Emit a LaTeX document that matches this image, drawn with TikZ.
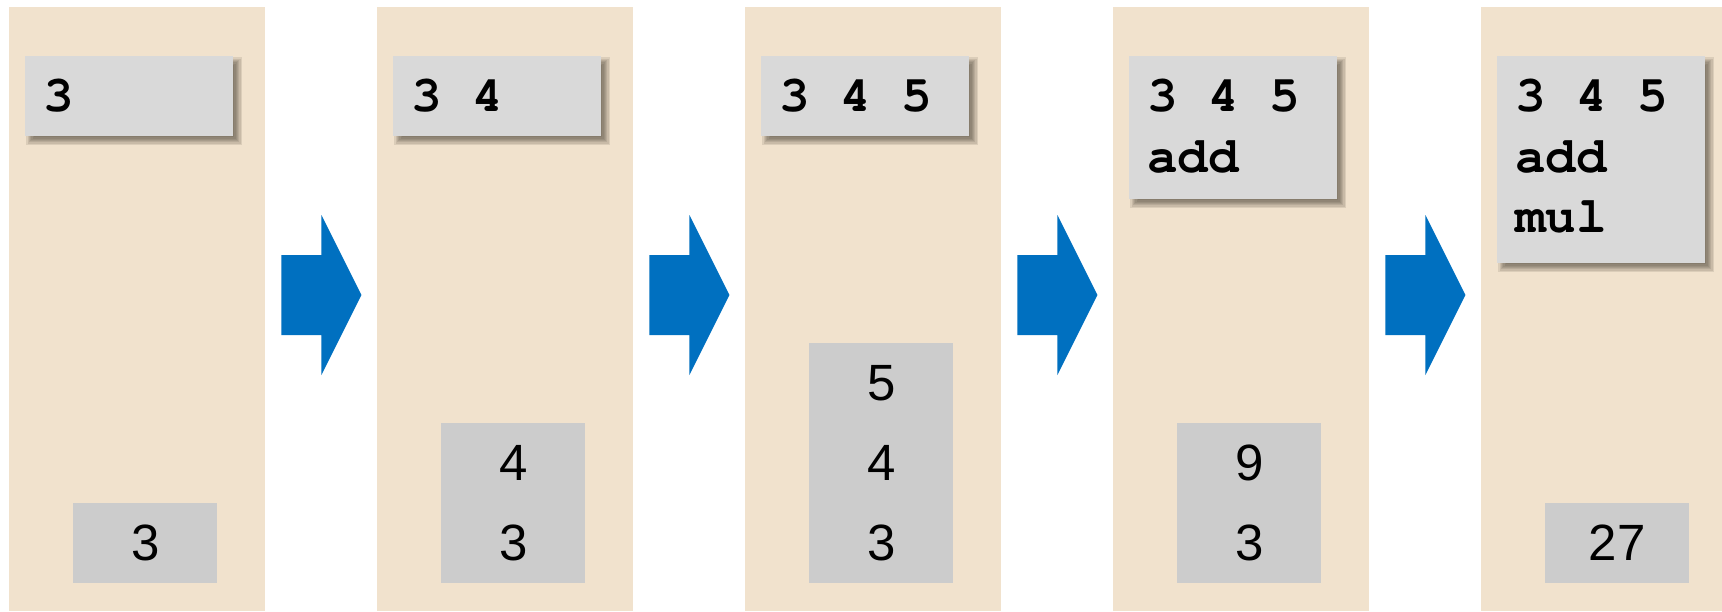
\documentclass[tikz,border=0pt]{standalone}
\usepackage{fontspec}
\setmainfont{Liberation Sans}
\usetikzlibrary{calc}
\newcommand\couriercode{\fontencoding{T1}\fontfamily{pcr}\fontseries{b}\fontshape{n}\fontsize{51}{60}\selectfont}
\definecolor{panelc}{HTML}{F1E2CD}
\definecolor{codec}{HTML}{D9D9D9}
\definecolor{stackc}{HTML}{CCCCCC}
\definecolor{arrowc}{HTML}{0070C0}
\definecolor{shadowc}{HTML}{4A4035}
\tikzset{
  panel/.style={fill=panelc, draw=none, inner sep=0, anchor=north west, minimum width=256pt, minimum height=604pt},
  lastpanel/.style={panel, minimum width=241pt},
  codebox/.style={fill=codec, draw=none, anchor=north west, minimum width=208pt, inner sep=0},
  stackbox/.style={fill=stackc, draw=none, anchor=south west, minimum width=144pt, inner sep=0},
  codetxt/.style={font=\couriercode, anchor=base west, inner sep=0},
  stacktxt/.style={font=\fontsize{51}{60}\selectfont, inner sep=0, anchor=center},
  blockarrow/.style={fill=arrowc, draw=none},
  shadowlayer/.style={fill=shadowc, opacity=0.13},
}
\begin{document}
\begin{tikzpicture}[x=1pt,y=-1pt]
\useasboundingbox (0,0) rectangle (1722,611);
\fill[white] (0,0) rectangle (1722,611);
% panels
\node[panel] (p1) at (9,7) {};
\node[panel] (p2) at (377,7) {};
\node[panel] (p3) at (745,7) {};
\node[panel] (p4) at (1113,7) {};
\node[lastpanel] (p5) at (1481,7) {};
% arrows between panels
\foreach \k in {1,2,3,4} {
  \fill[blockarrow] ($(p\k.north east)+(16,248)$) -- ++(40,0) -- ++(0,-40) -- ++(40,80) -- ++(-40,80) -- ++(0,-40) -- ++(-40,0) -- cycle;
}
% code boxes with shadows
\foreach \i/\h in {1/80,2/80,3/80,4/143,5/207} {
  \pgfmathsetmacro\bx{25+368*(\i-1)}
  \foreach \d in {-4,-2.5,-1,0,1,2.5,4} {
    \fill[shadowlayer] (\bx+5+\d, 56+5+\d) rectangle (\bx+208+5-\d, 56+\h+5-\d);
  }
  \node[codebox, minimum height=\h pt] (c\i) at (\bx,56) {};
}
% code text
\node[codetxt] (t1a) at ($(c1.north west)+(18,55)$) {3};
\node[codetxt] (t2a) at ($(c2.north west)+(18,55)$) {3 4};
\node[codetxt] (t3a) at ($(c3.north west)+(18,55)$) {3 4 5};
\node[codetxt] (t4a) at ($(c4.north west)+(18,55)$) {3 4 5};
\node[codetxt] (t4b) at ($(c4.north west)+(18,116)$) {add};
\node[codetxt] (t5a) at ($(c5.north west)+(18,55)$) {3 4 5};
\node[codetxt] (t5b) at ($(c5.north west)+(18,116)$) {add};
\node[codetxt] (t5c) at ($(c5.north west)+(18,176)$) {mul};
% stacks
\node[stackbox, minimum height=80pt] (s1) at (73,583) {};
\node[stackbox, minimum height=160pt] (s2) at (441,583) {};
\node[stackbox, minimum height=240pt] (s3) at (809,583) {};
\node[stackbox, minimum height=160pt] (s4) at (1177,583) {};
\node[stackbox, minimum height=80pt] (s5) at (1545,583) {};
\node[stacktxt] (v1a) at ($(s1.south)+(0,-40)$) {3};
\node[stacktxt] (v2a) at ($(s2.south)+(0,-40)$) {3};
\node[stacktxt] (v2b) at ($(s2.south)+(0,-120)$) {4};
\node[stacktxt] (v3a) at ($(s3.south)+(0,-40)$) {3};
\node[stacktxt] (v3b) at ($(s3.south)+(0,-120)$) {4};
\node[stacktxt] (v3c) at ($(s3.south)+(0,-200)$) {5};
\node[stacktxt] (v4a) at ($(s4.south)+(0,-40)$) {3};
\node[stacktxt] (v4b) at ($(s4.south)+(0,-120)$) {9};
\node[stacktxt] (v5a) at ($(s5.south)+(0,-40)$) {27};
\end{tikzpicture}
\end{document}
